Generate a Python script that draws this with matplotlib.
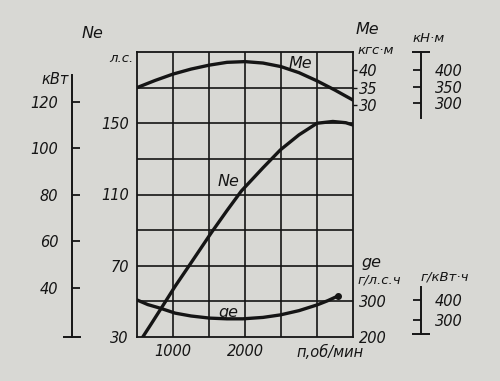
import matplotlib.pyplot as plt

# внешняя скоростная характеристика двигателя
rpm_ne = [580, 700, 850, 1030, 1240, 1540, 1750, 1950, 2250, 2490, 2750, 3000, 3220, 3400, 3500]
ne_hp = [30, 37.5, 47, 58.5, 71, 89, 101, 112, 125, 135, 143.5, 150, 151, 150.3, 149]

rpm_me = [500, 750, 1000, 1250, 1500, 1750, 2000, 2250, 2500, 2750, 3000, 3250, 3500]
me_kgf = [35.0, 37.0, 38.8, 40.2, 41.3, 42.1, 42.3, 41.9, 40.9, 39.2, 36.9, 34.3, 31.5]

rpm_ge = [500, 650, 820, 1030, 1250, 1510, 1750, 1970, 2250, 2490, 2750, 3000, 3150, 3290]
ge_val = [304, 291, 281, 267, 259, 253, 251, 251, 255, 262, 274, 290, 302, 315]

ne_ticks = [30, 70, 110, 150]
kw_ticks = [40, 60, 80, 100, 120]
me_ticks = [30, 35, 40]
nm_ticks = [300, 350, 400]
ge_ticks = [200, 300]
gkw_ticks = [300, 400]
x_ticks = [1000, 2000]

paper = "#d8d8d4"
ink = "#151515"
W, H = 500, 381

plt.rcParams["font.family"] = ["DejaVu Sans"]
plt.rcParams["font.style"] = "italic"
plt.rcParams["text.color"] = ink
fs = 10.5

fig = plt.figure(figsize=(5, 3.81), dpi=100, facecolor=paper)


def fx(x):
    return x / W


def fy(y):
    return 1 - y / H


left, right, top, bottom = 137, 353, 52, 337
ax = fig.add_axes([fx(left), fy(bottom), fx(right - left), (bottom - top) / H])
ax.set_facecolor(paper)
ax.set_xlim(500, 3500)
ax.set_ylim(30, 190)

# сетка
for v in range(1000, 3500, 500):
    ax.axvline(v, color=ink, lw=1.2)
for v in range(50, 190, 20):
    ax.axhline(v, color=ink, lw=1.2)
for s in ax.spines.values():
    s.set_color(ink)
    s.set_linewidth(1.3)

ax.set_xticks(x_ticks)
ax.set_xticklabels([str(v) for v in x_ticks], fontsize=fs)
ax.set_yticks(ne_ticks)
ax.set_yticklabels([str(v) for v in ne_ticks], fontsize=fs)
ax.tick_params(length=0, pad=6, colors=ink)
ax.tick_params(axis="x", pad=5)

ax.plot(rpm_ne, ne_hp, color=ink, lw=2.4, solid_capstyle="round",
        solid_joinstyle="round", zorder=3)

# Me
ax_me = ax.twinx()
ax_me.set_ylim(-35, 45)
ax_me.plot(rpm_me, me_kgf, color=ink, lw=2.4, solid_capstyle="round", solid_joinstyle="round")
ax_me.set_yticks(me_ticks)
ax_me.set_yticklabels([str(v) for v in me_ticks], fontsize=fs)
ax_me.tick_params(axis="y", length=3, width=1, pad=1, colors=ink)
for s in ax_me.spines.values():
    s.set_visible(False)

# ge
ax_ge = ax.twinx()
ax_ge.set_ylim(200, 1000)
ax_ge.plot(rpm_ge, ge_val, color=ink, lw=2.4, solid_capstyle="round", solid_joinstyle="round")
ax_ge.plot(rpm_ge[-1], ge_val[-1], "o", color=ink, ms=4)
ax_ge.set_yticks(ge_ticks)
ax_ge.set_yticklabels([str(v) for v in ge_ticks], fontsize=fs)
ax_ge.tick_params(axis="y", length=0, pad=4, colors=ink)
for s in ax_ge.spines.values():
    s.set_visible(False)


def side_scale(lim, pos, side, bounds, ticks, bar):
    a = ax.twinx()
    a.set_ylim(*lim)
    for k, s in a.spines.items():
        s.set_visible(k == side)
    sp = a.spines[side]
    sp.set_position(("axes", pos))
    sp.set_bounds(*bounds)
    sp.set_color(ink)
    sp.set_linewidth(1.4)
    a.yaxis.set_ticks_position(side)
    a.yaxis.set_label_position(side)
    a.set_yticks(ticks)
    a.set_yticklabels([str(v) for v in ticks], fontsize=fs)
    a.tick_params(axis="y", direction="in", length=6, width=1.3, pad=10, colors=ink)
    a.set_yticks([bar], minor=True)
    a.tick_params(axis="y", which="minor", direction="inout", length=13, width=1.4, colors=ink)
    return a


side_scale((18.9, 141.5), (72 - left) / (right - left), "left", (18.9, 131.6), kw_ticks, 18.9)
side_scale((-397, 441), (421 - left) / (right - left), "right", (256, 453), nm_ticks, 453)
side_scale((215, 1640), (421 - left) / (right - left), "right", (230, 465), gkw_ticks, 230)

# подписи
fig.text(fx(93), fy(33), "Ne", fontsize=fs + 1, ha="center", va="center")
fig.text(fx(133), fy(58), "л.с.", fontsize=fs - 1, ha="right", va="center")
fig.text(fx(55), fy(79), "кВт", fontsize=fs, ha="center", va="center")
fig.text(fx(367), fy(30), "Me", fontsize=fs + 1, ha="center", va="center")
fig.text(fx(357), fy(50), "кгс·м", fontsize=fs - 1, ha="left", va="center")
fig.text(fx(429), fy(38), "кН·м", fontsize=fs - 1, ha="center", va="center")
fig.text(fx(371), fy(262), "ge", fontsize=fs + 1, ha="center", va="center")
fig.text(fx(357), fy(280), "г/л.с.ч", fontsize=fs - 1, ha="left", va="center")
fig.text(fx(445), fy(277), "г/кВт·ч", fontsize=fs - 1, ha="center", va="center")
fig.text(fx(330), fy(352), "п,об/мин", fontsize=fs, ha="center", va="center")

fig.text(fx(300), fy(63), "Me", fontsize=fs + 1, ha="center", va="center")
fig.text(fx(228), fy(182), "Ne", fontsize=fs + 1, ha="center", va="center")
fig.text(fx(228), fy(312), "ge", fontsize=fs + 1, ha="center", va="center")

fig.savefig("out.png", dpi=100, facecolor=paper)
